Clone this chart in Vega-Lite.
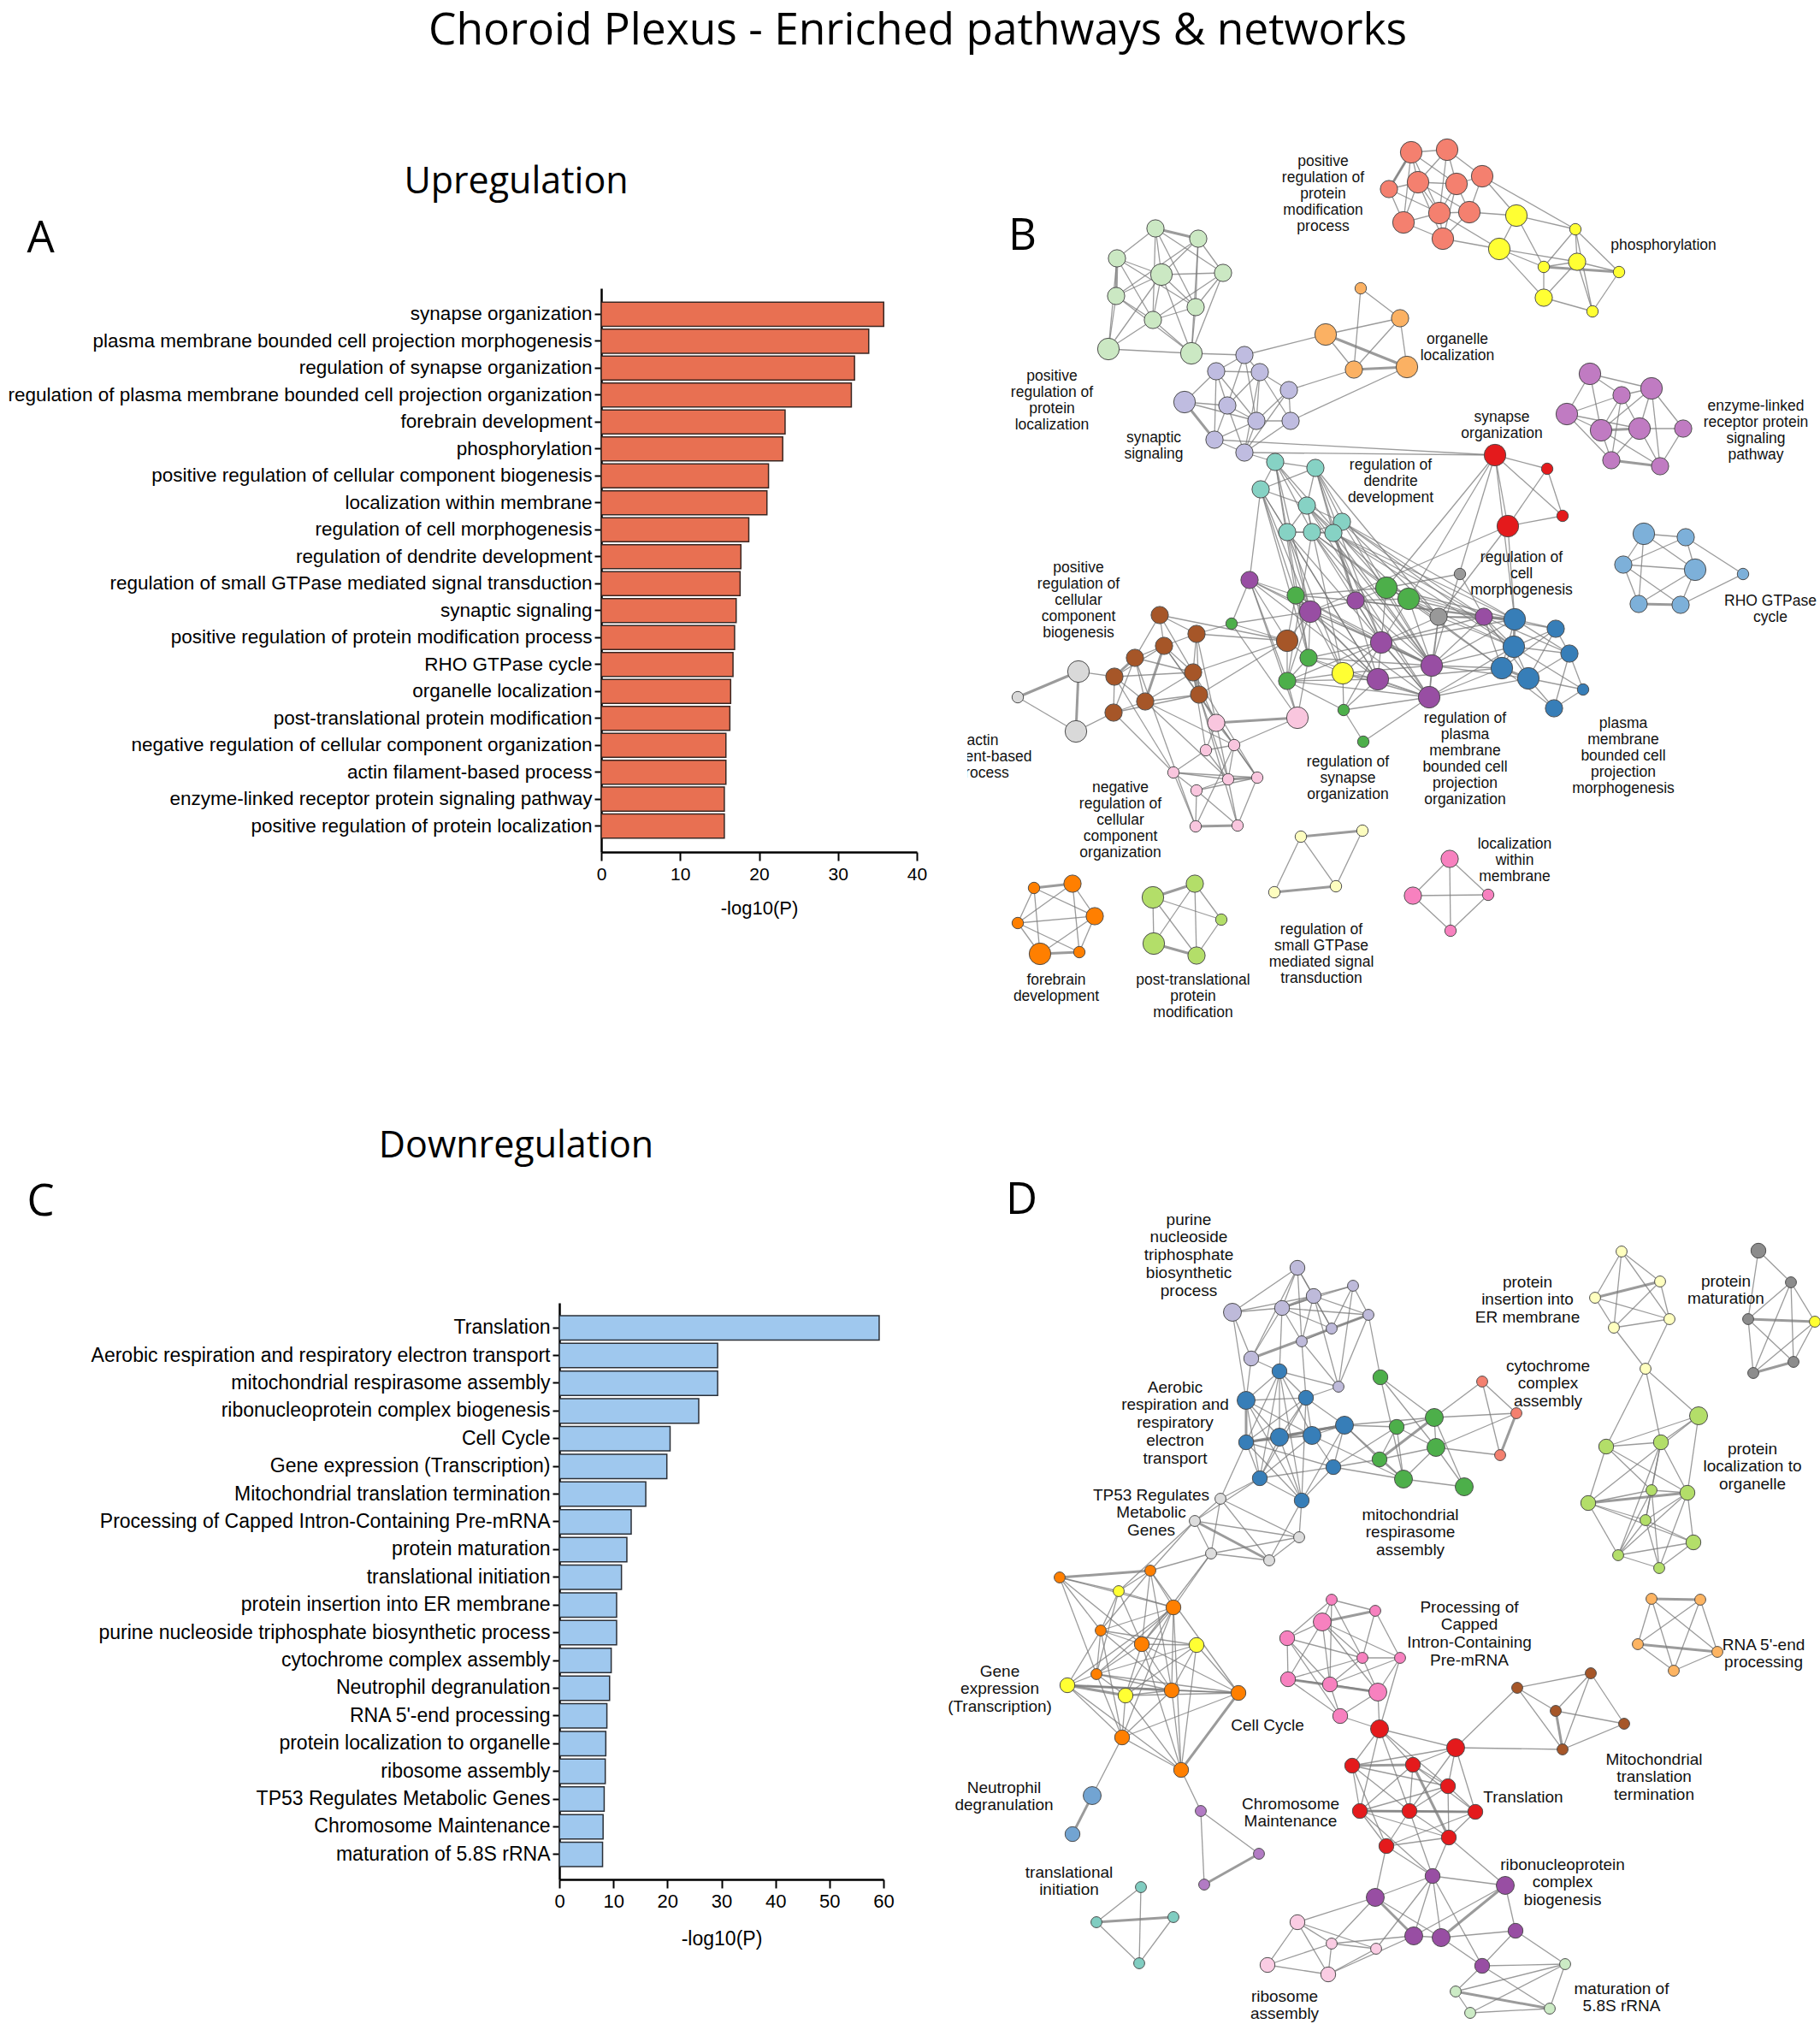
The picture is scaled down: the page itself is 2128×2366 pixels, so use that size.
{
"$schema": "https://vega.github.io/schema/vega-lite/v6.json",
"background": "white",
"padding": {"left": 9, "top": 11, "right": 0, "bottom": 0},
"title": {"text": "Choroid Plexus - Enriched pathways & networks", "font": "Open Sans", "fontSize": 51.5, "fontWeight": "normal", "color": "#000", "anchor": "middle", "frame": "group", "dx": 419, "offset": 56.5, "baseline": "alphabetic"},
"config": {
  "font": "Liberation Sans",
  "view": {"stroke": null},
  "axis": {"domainColor": "#000", "tickColor": "#000", "labelColor": "#000", "titleColor": "#000", "grid": false, "labelFont": "Liberation Sans", "titleFont": "Liberation Sans", "titleFontWeight": "normal"}
},
"datasets": {
"up": [
{"term": "synapse organization", "p": 35.8},
{"term": "plasma membrane bounded cell projection morphogenesis", "p": 33.9},
{"term": "regulation of synapse organization", "p": 32.1},
{"term": "regulation of plasma membrane bounded cell projection organization", "p": 31.7},
{"term": "forebrain development", "p": 23.3},
{"term": "phosphorylation", "p": 23.0},
{"term": "positive regulation of cellular component biogenesis", "p": 21.2},
{"term": "localization within membrane", "p": 21.0},
{"term": "regulation of cell morphogenesis", "p": 18.7},
{"term": "regulation of dendrite development", "p": 17.7},
{"term": "regulation of small GTPase mediated signal transduction", "p": 17.6},
{"term": "synaptic signaling", "p": 17.1},
{"term": "positive regulation of protein modification process", "p": 16.9},
{"term": "RHO GTPase cycle", "p": 16.7},
{"term": "organelle localization", "p": 16.4},
{"term": "post-translational protein modification", "p": 16.3},
{"term": "negative regulation of cellular component organization", "p": 15.8},
{"term": "actin filament-based process", "p": 15.8},
{"term": "enzyme-linked receptor protein signaling pathway", "p": 15.6},
{"term": "positive regulation of protein localization", "p": 15.6}
],
"down": [
{"term": "Translation", "p": 59.2},
{"term": "Aerobic respiration and respiratory electron transport", "p": 29.3},
{"term": "mitochondrial respirasome assembly", "p": 29.3},
{"term": "ribonucleoprotein complex biogenesis", "p": 25.8},
{"term": "Cell Cycle", "p": 20.5},
{"term": "Gene expression (Transcription)", "p": 19.9},
{"term": "Mitochondrial translation termination", "p": 16.0},
{"term": "Processing of Capped Intron-Containing Pre-mRNA", "p": 13.3},
{"term": "protein maturation", "p": 12.5},
{"term": "translational initiation", "p": 11.5},
{"term": "protein insertion into ER membrane", "p": 10.6},
{"term": "purine nucleoside triphosphate biosynthetic process", "p": 10.6},
{"term": "cytochrome complex assembly", "p": 9.6},
{"term": "Neutrophil degranulation", "p": 9.3},
{"term": "RNA 5'-end processing", "p": 8.8},
{"term": "protein localization to organelle", "p": 8.6},
{"term": "ribosome assembly", "p": 8.5},
{"term": "TP53 Regulates Metabolic Genes", "p": 8.3},
{"term": "Chromosome Maintenance", "p": 8.1},
{"term": "maturation of 5.8S rRNA", "p": 8.0}
],
"nodesB": [
{"id":"pm1","x":1648,"y":178,"g":"pm","n":3},{"id":"pm2","x":1690,"y":175,"g":"pm","n":3},{"id":"pm3","x":1622,"y":221,"g":"pm","n":2},{"id":"pm4","x":1656,"y":213,"g":"pm","n":3},{"id":"pm5","x":1701,"y":215,"g":"pm","n":3},{"id":"pm6","x":1731,"y":206,"g":"pm","n":3},{"id":"pm7","x":1639,"y":260,"g":"pm","n":3},{"id":"pm8","x":1681,"y":249,"g":"pm","n":3},{"id":"pm9","x":1716,"y":248,"g":"pm","n":3},{"id":"pm10","x":1685,"y":279,"g":"pm","n":3},
{"id":"ph1","x":1771,"y":252,"g":"ph","n":3},{"id":"ph2","x":1751,"y":291,"g":"ph","n":3},{"id":"ph3","x":1840,"y":268,"g":"ph","n":1},{"id":"ph4","x":1803,"y":312,"g":"ph","n":1},{"id":"ph5","x":1842,"y":306,"g":"ph","n":2},{"id":"ph6","x":1891,"y":318,"g":"ph","n":1},{"id":"ph7","x":1803,"y":348,"g":"ph","n":2},{"id":"ph8","x":1860,"y":364,"g":"ph","n":1},{"id":"ph9","x":1568,"y":787,"g":"ph","n":3},
{"id":"pl1","x":1349,"y":267,"g":"pl","n":2},{"id":"pl2","x":1399,"y":279,"g":"pl","n":2},{"id":"pl3","x":1304,"y":302,"g":"pl","n":2},{"id":"pl4","x":1356,"y":321,"g":"pl","n":3},{"id":"pl5","x":1428,"y":319,"g":"pl","n":2},{"id":"pl6","x":1303,"y":346,"g":"pl","n":2},{"id":"pl7","x":1396,"y":359,"g":"pl","n":2},{"id":"pl8","x":1346,"y":374,"g":"pl","n":2},{"id":"pl9","x":1294,"y":408,"g":"pl","n":3},{"id":"pl10","x":1391,"y":413,"g":"pl","n":3},
{"id":"ol1","x":1589,"y":337,"g":"ol","n":1},{"id":"ol2","x":1635,"y":372,"g":"ol","n":2},{"id":"ol3","x":1548,"y":391,"g":"ol","n":3},{"id":"ol4","x":1581,"y":432,"g":"ol","n":2},{"id":"ol5","x":1643,"y":429,"g":"ol","n":3},
{"id":"ss1","x":1453,"y":415,"g":"ss","n":2},{"id":"ss2","x":1420,"y":434,"g":"ss","n":2},{"id":"ss3","x":1471,"y":435,"g":"ss","n":2},{"id":"ss4","x":1505,"y":456,"g":"ss","n":2},{"id":"ss5","x":1383,"y":470,"g":"ss","n":3},{"id":"ss6","x":1433,"y":474,"g":"ss","n":2},{"id":"ss7","x":1467,"y":492,"g":"ss","n":2},{"id":"ss8","x":1507,"y":492,"g":"ss","n":2},{"id":"ss9","x":1418,"y":514,"g":"ss","n":2},{"id":"ss10","x":1453,"y":529,"g":"ss","n":2},
{"id":"en1","x":1857,"y":437,"g":"en","n":3},{"id":"en2","x":1894,"y":462,"g":"en","n":2},{"id":"en3","x":1929,"y":454,"g":"en","n":3},{"id":"en4","x":1830,"y":484,"g":"en","n":3},{"id":"en5","x":1870,"y":503,"g":"en","n":3},{"id":"en6","x":1915,"y":501,"g":"en","n":3},{"id":"en7","x":1966,"y":501,"g":"en","n":2},{"id":"en8","x":1882,"y":538,"g":"en","n":2},{"id":"en9","x":1939,"y":545,"g":"en","n":2},
{"id":"so1","x":1746,"y":532,"g":"so","n":3},{"id":"so2","x":1807,"y":548,"g":"so","n":1},{"id":"so3","x":1761,"y":615,"g":"so","n":3},{"id":"so4","x":1825,"y":603,"g":"so","n":1},
{"id":"rh1","x":1920,"y":624,"g":"rh","n":3},{"id":"rh2","x":1969,"y":628,"g":"rh","n":2},{"id":"rh3","x":1896,"y":660,"g":"rh","n":2},{"id":"rh4","x":1980,"y":666,"g":"rh","n":3},{"id":"rh5","x":2036,"y":671,"g":"rh","n":1},{"id":"rh6","x":1914,"y":706,"g":"rh","n":2},{"id":"rh7","x":1963,"y":707,"g":"rh","n":2},
{"id":"dd1","x":1489,"y":540,"g":"dd","n":2},{"id":"dd2","x":1536,"y":547,"g":"dd","n":2},{"id":"dd3","x":1472,"y":572,"g":"dd","n":2},{"id":"dd4","x":1526,"y":591,"g":"dd","n":2},{"id":"dd5","x":1567,"y":610,"g":"dd","n":2},{"id":"dd6","x":1503,"y":622,"g":"dd","n":2},{"id":"dd7","x":1532,"y":622,"g":"dd","n":2},{"id":"dd8","x":1557,"y":623,"g":"dd","n":2},
{"id":"po1","x":1459,"y":678,"g":"po","n":2},{"id":"po2","x":1583,"y":702,"g":"po","n":2},{"id":"po3","x":1530,"y":715,"g":"po","n":3},{"id":"po4","x":1733,"y":721,"g":"po","n":2},{"id":"po5","x":1613,"y":751,"g":"po","n":3},{"id":"po6","x":1672,"y":778,"g":"po","n":3},{"id":"po7","x":1609,"y":794,"g":"po","n":3},{"id":"po8","x":1669,"y":815,"g":"po","n":3},
{"id":"rs1","x":1513,"y":696,"g":"rs","n":2},{"id":"rs2","x":1619,"y":687,"g":"rs","n":3},{"id":"rs3","x":1645,"y":700,"g":"rs","n":3},{"id":"rs4","x":1438,"y":729,"g":"rs","n":1},{"id":"rs5","x":1528,"y":769,"g":"rs","n":2},{"id":"rs6","x":1503,"y":796,"g":"rs","n":2},{"id":"rs7","x":1569,"y":830,"g":"rs","n":1},{"id":"rs8","x":1592,"y":867,"g":"rs","n":1},
{"id":"cm1","x":1705,"y":671,"g":"cm","n":1},{"id":"cm2","x":1680,"y":721,"g":"cm","n":2},
{"id":"pp1","x":1769,"y":724,"g":"pp","n":3},{"id":"pp2","x":1817,"y":735,"g":"pp","n":2},{"id":"pp3","x":1768,"y":756,"g":"pp","n":3},{"id":"pp4","x":1833,"y":764,"g":"pp","n":2},{"id":"pp5","x":1754,"y":781,"g":"pp","n":3},{"id":"pp6","x":1785,"y":793,"g":"pp","n":3},{"id":"pp7","x":1849,"y":806,"g":"pp","n":1},{"id":"pp8","x":1815,"y":828,"g":"pp","n":2},
{"id":"cb1","x":1354,"y":719,"g":"cb","n":2},{"id":"cb2","x":1397,"y":741,"g":"cb","n":2},{"id":"cb3","x":1359,"y":755,"g":"cb","n":2},{"id":"cb4","x":1325,"y":769,"g":"cb","n":2},{"id":"cb5","x":1393,"y":786,"g":"cb","n":2},{"id":"cb6","x":1301,"y":791,"g":"cb","n":2},{"id":"cb7","x":1337,"y":820,"g":"cb","n":2},{"id":"cb8","x":1400,"y":812,"g":"cb","n":2},{"id":"cb9","x":1300,"y":833,"g":"cb","n":2},{"id":"cb10","x":1503,"y":749,"g":"cb","n":3},
{"id":"af1","x":1259,"y":785,"g":"af","n":3},{"id":"af2","x":1188,"y":815,"g":"af","n":1},{"id":"af3","x":1256,"y":855,"g":"af","n":3},
{"id":"nr1","x":1420,"y":845,"g":"nr","n":2},{"id":"nr2","x":1515,"y":839,"g":"nr","n":3},{"id":"nr3","x":1441,"y":871,"g":"nr","n":1},{"id":"nr4","x":1408,"y":877,"g":"nr","n":1},{"id":"nr5","x":1370,"y":903,"g":"nr","n":1},{"id":"nr6","x":1434,"y":911,"g":"nr","n":1},{"id":"nr7","x":1468,"y":909,"g":"nr","n":1},{"id":"nr8","x":1397,"y":924,"g":"nr","n":1},{"id":"nr9","x":1396,"y":966,"g":"nr","n":1},{"id":"nr10","x":1445,"y":965,"g":"nr","n":1},
{"id":"fd1","x":1207,"y":1038,"g":"fd","n":1},{"id":"fd2","x":1252,"y":1033,"g":"fd","n":2},{"id":"fd3","x":1188,"y":1079,"g":"fd","n":1},{"id":"fd4","x":1278,"y":1071,"g":"fd","n":2},{"id":"fd5","x":1214,"y":1115,"g":"fd","n":3},{"id":"fd6","x":1260,"y":1113,"g":"fd","n":1},
{"id":"pt1","x":1395,"y":1033,"g":"pt","n":2},{"id":"pt2","x":1346,"y":1049,"g":"pt","n":3},{"id":"pt3","x":1426,"y":1075,"g":"pt","n":1},{"id":"pt4","x":1347,"y":1103,"g":"pt","n":3},{"id":"pt5","x":1397,"y":1117,"g":"pt","n":2},
{"id":"sg1","x":1519,"y":978,"g":"sg","n":1},{"id":"sg2","x":1591,"y":971,"g":"sg","n":1},{"id":"sg3","x":1488,"y":1043,"g":"sg","n":1},{"id":"sg4","x":1560,"y":1036,"g":"sg","n":1},
{"id":"lm1","x":1693,"y":1004,"g":"lm","n":2},{"id":"lm2","x":1650,"y":1047,"g":"lm","n":2},{"id":"lm3","x":1738,"y":1046,"g":"lm","n":1},{"id":"lm4","x":1694,"y":1088,"g":"lm","n":1}
],
"edgesB": [
{"s":"pm1","t":["pm2","pm3","pm4","pm5","pm7","pm8"],"w":1},{"s":"pm2","t":["pm4","pm5","pm6","pm8"],"w":1},{"s":"pm3","t":["pm4","pm7","pm8"],"w":1},{"s":"pm4","t":["pm5","pm7","pm8","pm9","pm10"],"w":1},{"s":"pm5","t":["pm6","pm8","pm9","pm10"],"w":1},{"s":"pm6","t":["pm9","ph1","ph3"],"w":1},{"s":"pm7","t":["pm8","pm10"],"w":1},{"s":"pm8","t":["pm9","pm10","ph2"],"w":1},{"s":"pm9","t":["pm10","ph1"],"w":1},{"s":"pm10","t":["ph2"],"w":1},{"s":"pm3","t":["pm1"],"w":2},
{"s":"ph1","t":["ph2","ph3","ph4"],"w":1},{"s":"ph2","t":["ph4","ph5","ph7"],"w":1},{"s":"ph3","t":["ph4","ph5","ph6","ph8"],"w":1},{"s":"ph4","t":["ph5","ph7"],"w":1},{"s":"ph5","t":["ph6","ph7","ph8"],"w":1},{"s":"ph6","t":["ph8"],"w":1},{"s":"ph7","t":["ph8"],"w":1},{"s":"ph4","t":["ph6"],"w":2},
{"s":"pl1","t":["pl3","pl4","pl5","pl7","pl8"],"w":1},{"s":"pl2","t":["pl4","pl5","pl6","pl7","pl10"],"w":1},{"s":"pl3","t":["pl4","pl7","pl8","pl9"],"w":1},{"s":"pl4","t":["pl5","pl6","pl7","pl8","pl9","pl10"],"w":1},{"s":"pl5","t":["pl7","pl8","pl10"],"w":1},{"s":"pl6","t":["pl8","pl9","pl10"],"w":1},{"s":"pl7","t":["pl8","pl10"],"w":1},{"s":"pl8","t":["pl9","pl10"],"w":1},{"s":"pl9","t":["pl10"],"w":1},{"s":"pl10","t":["ss1"],"w":1},{"s":"pl1","t":["pl2"],"w":2},{"s":"pl6","t":["pl3"],"w":2},
{"s":"ol1","t":["ol2","ol4"],"w":1},{"s":"ol2","t":["ol3","ol4","ol5"],"w":1},{"s":"ol3","t":["ol4","ss1"],"w":1},{"s":"ol4","t":["ss4"],"w":1},{"s":"ol5","t":["ss8"],"w":1},{"s":"ol3","t":["ol5"],"w":2},{"s":"ol4","t":["ol5"],"w":2},
{"s":"ss1","t":["ss2","ss3","ss6","ss7"],"w":1},{"s":"ss2","t":["ss3","ss5","ss6","ss7","ss9"],"w":1},{"s":"ss3","t":["ss4","ss6","ss7","ss8","ss10"],"w":1},{"s":"ss4","t":["ss7","ss8","ss10"],"w":1},{"s":"ss5","t":["ss6","ss7"],"w":1},{"s":"ss6","t":["ss7","ss9","ss10"],"w":1},{"s":"ss7","t":["ss8","ss9","ss10"],"w":1},{"s":"ss8","t":["ss10"],"w":1},{"s":"ss9","t":["ss10","so1"],"w":1},{"s":"ss10","t":["so1","dd1"],"w":1},{"s":"ss5","t":["ss9"],"w":2},
{"s":"en1","t":["en2","en3","en4","en5"],"w":1},{"s":"en2","t":["en3","en4","en5","en6","en8"],"w":1},{"s":"en3","t":["en5","en6","en7","en9"],"w":1},{"s":"en4","t":["en5","en6","en8"],"w":1},{"s":"en5","t":["en8","en9"],"w":1},{"s":"en6","t":["en7","en8","en9"],"w":1},{"s":"en7","t":["en9"],"w":1},{"s":"en8","t":["en9"],"w":2},{"s":"en5","t":["en6"],"w":2},
{"s":"so1","t":["so2","so3","so4","po6","pp1","rs3","rs2"],"w":1},{"s":"so2","t":["so3","so4"],"w":1},{"s":"so3","t":["so4","po3","pp1","cm2"],"w":1},
{"s":"rh1","t":["rh2","rh3","rh4","rh6"],"w":1},{"s":"rh2","t":["rh3","rh4","rh5"],"w":1},{"s":"rh3","t":["rh4","rh6","rh7"],"w":1},{"s":"rh4","t":["rh6","rh7"],"w":1},{"s":"rh5","t":["rh7"],"w":1},{"s":"rh6","t":["rh7"],"w":2},
{"s":"dd1","t":["dd2","dd3","dd4","dd6","dd7","rs2","po3","rs1"],"w":1},{"s":"dd2","t":["dd3","dd4","dd5","dd8","po2","rs2","po5","cm2"],"w":1},{"s":"dd3","t":["dd4","dd6","po1","rs1","po3","rs5","po7"],"w":1},{"s":"dd4","t":["dd5","dd6","dd7","dd8","rs3","po6","ph9","po8"],"w":1},{"s":"dd5","t":["dd7","dd8","pp3","po6","cm2","po4","pp1"],"w":1},{"s":"dd6","t":["dd7","dd8","po3","rs5","po7","po8","ph9"],"w":1},{"s":"dd7","t":["dd8","po5","rs2","rs6","po6","po8","pp5"],"w":1},{"s":"dd8","t":["po2","po4","pp1","po6","pp3","po5","po7"],"w":1},
{"s":"po1","t":["rs1","po3","cb10","rs4","rs6","po7","po5"],"w":1},{"s":"rs1","t":["po2","rs2","po5","po7","rs5","po6"],"w":1},{"s":"po2","t":["rs2","rs3","po3","po5","po6","po4","pp1"],"w":1},{"s":"po3","t":["rs5","po5","po7","ph9","rs6","po6","po8"],"w":1},{"s":"rs2","t":["rs3","po5","po6","pp1","cm2","cm1","po4"],"w":1},{"s":"rs3","t":["po4","po5","cm2","pp3","po6","pp5"],"w":1},{"s":"po4","t":["cm2","pp1","pp3","pp5","pp2","po6","cm1","pp4","pp6"],"w":1},{"s":"po5","t":["po7","po8","ph9","rs5","po4","pp1"],"w":1},{"s":"po6","t":["po8","pp5","pp6","ph9","pp3","pp1"],"w":1},{"s":"po7","t":["ph9","rs7","po8","rs6","pp5"],"w":1},{"s":"po8","t":["rs7","rs8","pp5","pp6","pp3"],"w":1},{"s":"ph9","t":["rs5","rs6","rs7","po8"],"w":1},{"s":"rs5","t":["rs6","cb10","po6","po8"],"w":1},{"s":"rs6","t":["rs7","cb10","po5","po8"],"w":1},{"s":"rs7","t":["rs8","po5"],"w":1},{"s":"rs4","t":["cb10","cb2","po3"],"w":1},{"s":"cm2","t":["pp1","pp3","po6","po8","po5"],"w":1},{"s":"cb10","t":["rs1","po3"],"w":1},{"s":"rs1","t":["po3"],"w":2},{"s":"po5","t":["po6"],"w":2},
{"s":"pp1","t":["pp2","pp4","pp5"],"w":1},{"s":"pp2","t":["pp3","pp4","pp5","pp6"],"w":1},{"s":"pp3","t":["pp4","pp5","pp6","pp7"],"w":1},{"s":"pp4","t":["pp6","pp7","pp8"],"w":1},{"s":"pp5","t":["pp8"],"w":1},{"s":"pp6","t":["pp7","pp8"],"w":1},{"s":"pp7","t":["pp8"],"w":1},{"s":"pp1","t":["pp3"],"w":2},{"s":"pp5","t":["pp6"],"w":2},
{"s":"cb1","t":["cb2","cb3","cb4","cb5","cb10"],"w":1},{"s":"cb2","t":["cb3","cb5","cb8","cb10","nr1"],"w":1},{"s":"cb3","t":["cb4","cb5","cb6","cb8","nr7"],"w":1},{"s":"cb4","t":["cb5","cb7","cb9","nr9"],"w":1},{"s":"cb5","t":["cb6","cb7","cb10","nr1","nr4","nr7"],"w":1},{"s":"cb6","t":["cb7","cb9","af1","nr5"],"w":1},{"s":"cb7","t":["cb8","cb9","nr3","nr6"],"w":1},{"s":"cb8","t":["cb9","cb10","nr1","nr3","nr6","nr10"],"w":1},{"s":"cb9","t":["af3","nr5"],"w":1},{"s":"cb3","t":["cb7"],"w":2},{"s":"cb5","t":["cb8"],"w":2},{"s":"cb4","t":["cb6"],"w":2},
{"s":"af1","t":["af2","af3"],"w":2},{"s":"af2","t":["af3"],"w":1},
{"s":"nr1","t":["nr3","nr4","nr6"],"w":1},{"s":"nr1","t":["nr2"],"w":2},{"s":"nr2","t":["nr3","po1","rs6","rs5","rs4"],"w":1},{"s":"nr3","t":["nr4","nr6","nr7","nr9"],"w":1},{"s":"nr4","t":["nr5","nr6"],"w":1},{"s":"nr5","t":["nr6","nr8","nr7","nr9"],"w":1},{"s":"nr6","t":["nr8","nr10"],"w":1},{"s":"nr7","t":["nr8","nr10"],"w":1},{"s":"nr8","t":["nr9","nr10"],"w":1},{"s":"nr9","t":["nr10"],"w":2},{"s":"nr6","t":["nr7"],"w":2},
{"s":"fd1","t":["fd2"],"w":2},{"s":"fd1","t":["fd3","fd4","fd5"],"w":1},{"s":"fd2","t":["fd3","fd4","fd6"],"w":1},{"s":"fd3","t":["fd4","fd5","fd6"],"w":1},{"s":"fd4","t":["fd5","fd6"],"w":1},{"s":"fd5","t":["fd6"],"w":2},
{"s":"pt1","t":["pt2"],"w":2},{"s":"pt1","t":["pt3","pt4","pt5"],"w":1},{"s":"pt2","t":["pt3","pt4","pt5"],"w":1},{"s":"pt3","t":["pt5"],"w":1},{"s":"pt4","t":["pt5"],"w":2},
{"s":"sg1","t":["sg2"],"w":2},{"s":"sg1","t":["sg3","sg4"],"w":1},{"s":"sg2","t":["sg4"],"w":1},{"s":"sg3","t":["sg4"],"w":2},
{"s":"lm1","t":["lm2","lm3","lm4"],"w":1},{"s":"lm2","t":["lm3","lm4"],"w":1},{"s":"lm3","t":["lm4"],"w":1}
],
"labelsB": [
{"t":"positive\nregulation of\nprotein\nmodification\nprocess","x":1545,"y":188},
{"t":"phosphorylation","x":1943,"y":286},
{"t":"organelle\nlocalization","x":1702,"y":396},
{"t":"positive\nregulation of\nprotein\nlocalization","x":1228,"y":439},
{"t":"synaptic\nsignaling","x":1347,"y":511},
{"t":"synapse\norganization","x":1754,"y":487},
{"t":"enzyme-linked\nreceptor protein\nsignaling\npathway","x":2051,"y":474},
{"t":"regulation of\ndendrite\ndevelopment","x":1624,"y":543},
{"t":"regulation of\ncell\nmorphogenesis","x":1777,"y":651},
{"t":"positive\nregulation of\ncellular\ncomponent\nbiogenesis","x":1259,"y":663},
{"t":"RHO GTPase\ncycle","x":2068,"y":702},
{"t":"regulation of\nsynapse\norganization","x":1574,"y":890},
{"t":"regulation of\nplasma\nmembrane\nbounded cell\nprojection\norganization","x":1711,"y":839},
{"t":"plasma\nmembrane\nbounded cell\nprojection\nmorphogenesis","x":1896,"y":845},
{"t":"negative\nregulation of\ncellular\ncomponent\norganization","x":1308,"y":920},
{"t":"localization\nwithin\nmembrane","x":1769,"y":986},
{"t":"regulation of\nsmall GTPase\nmediated signal\ntransduction","x":1543,"y":1086},
{"t":"forebrain\ndevelopment","x":1233,"y":1145},
{"t":"post-translational\nprotein\nmodification","x":1393,"y":1145}
],
"nodesD": [
{"id":"pu1","x":1515,"y":1482,"g":"pu","n":2},{"id":"pu2","x":1580,"y":1503,"g":"pu","n":1},{"id":"pu3","x":1439,"y":1534,"g":"pu","n":3},{"id":"pu4","x":1497,"y":1529,"g":"pu","n":2},{"id":"pu5","x":1534,"y":1515,"g":"pu","n":2},{"id":"pu6","x":1598,"y":1537,"g":"pu","n":1},{"id":"pu7","x":1555,"y":1553,"g":"pu","n":1},{"id":"pu8","x":1520,"y":1568,"g":"pu","n":1},{"id":"pu9","x":1461,"y":1588,"g":"pu","n":2},{"id":"pu10","x":1563,"y":1621,"g":"pu","n":1},
{"id":"ae1","x":1494,"y":1603,"g":"ae","n":2},{"id":"ae2","x":1455,"y":1637,"g":"ae","n":3},{"id":"ae3","x":1525,"y":1634,"g":"ae","n":2},{"id":"ae4","x":1570,"y":1666,"g":"ae","n":3},{"id":"ae5","x":1494,"y":1680,"g":"ae","n":3},{"id":"ae6","x":1532,"y":1678,"g":"ae","n":3},{"id":"ae7","x":1455,"y":1686,"g":"ae","n":2},{"id":"ae8","x":1557,"y":1715,"g":"ae","n":2},{"id":"ae9","x":1471,"y":1728,"g":"ae","n":2},{"id":"ae10","x":1520,"y":1754,"g":"ae","n":2},
{"id":"mr1","x":1612,"y":1610,"g":"mr","n":2},{"id":"mr2","x":1675,"y":1657,"g":"mr","n":3},{"id":"mr3","x":1631,"y":1668,"g":"mr","n":2},{"id":"mr4","x":1677,"y":1692,"g":"mr","n":3},{"id":"mr5","x":1611,"y":1706,"g":"mr","n":2},{"id":"mr6","x":1639,"y":1729,"g":"mr","n":3},{"id":"mr7","x":1710,"y":1738,"g":"mr","n":3},
{"id":"cy1","x":1731,"y":1615,"g":"cy","n":1},{"id":"cy2","x":1771,"y":1652,"g":"cy","n":1},{"id":"cy3","x":1752,"y":1701,"g":"cy","n":1},
{"id":"tp1","x":1425,"y":1752,"g":"tp","n":1},{"id":"tp2","x":1395,"y":1778,"g":"tp","n":1},{"id":"tp3","x":1517,"y":1797,"g":"tp","n":1},{"id":"tp4","x":1414,"y":1816,"g":"tp","n":1},{"id":"tp5","x":1482,"y":1824,"g":"tp","n":1},
{"id":"er1","x":1894,"y":1463,"g":"er","n":1},{"id":"er2","x":1939,"y":1498,"g":"er","n":1},{"id":"er3","x":1863,"y":1517,"g":"er","n":1},{"id":"er4","x":1950,"y":1542,"g":"er","n":1},{"id":"er5","x":1885,"y":1552,"g":"er","n":1},{"id":"er6","x":1922,"y":1600,"g":"er","n":1},
{"id":"ma1","x":2054,"y":1462,"g":"ma","n":2},{"id":"ma2","x":2092,"y":1499,"g":"ma","n":1},{"id":"ma3","x":2042,"y":1542,"g":"ma","n":1},{"id":"ma4","x":2095,"y":1592,"g":"ma","n":1},{"id":"ma5","x":2048,"y":1605,"g":"ma","n":1},{"id":"ma6","x":2120,"y":1545,"g":"ge","n":1},
{"id":"lo1","x":1984,"y":1655,"g":"lo","n":3},{"id":"lo2","x":1876,"y":1691,"g":"lo","n":2},{"id":"lo3","x":1940,"y":1686,"g":"lo","n":2},{"id":"lo4","x":1855,"y":1757,"g":"lo","n":2},{"id":"lo5","x":1929,"y":1742,"g":"lo","n":1},{"id":"lo6","x":1971,"y":1745,"g":"lo","n":2},{"id":"lo7","x":1922,"y":1777,"g":"lo","n":1},{"id":"lo8","x":1978,"y":1803,"g":"lo","n":2},{"id":"lo9","x":1890,"y":1818,"g":"lo","n":1},{"id":"lo10","x":1938,"y":1833,"g":"lo","n":1},
{"id":"rn1","x":1929,"y":1869,"g":"rn","n":1},{"id":"rn2","x":1986,"y":1870,"g":"rn","n":1},{"id":"rn3","x":1913,"y":1922,"g":"rn","n":1},{"id":"rn4","x":2006,"y":1931,"g":"rn","n":1},{"id":"rn5","x":1955,"y":1953,"g":"rn","n":1},
{"id":"cc1","x":1237,"y":1844,"g":"cc","n":1},{"id":"cc2","x":1343,"y":1836,"g":"cc","n":1},{"id":"cc3","x":1370,"y":1879,"g":"cc","n":2},{"id":"cc4","x":1285,"y":1906,"g":"cc","n":1},{"id":"cc5","x":1333,"y":1922,"g":"cc","n":2},{"id":"cc6","x":1280,"y":1957,"g":"cc","n":1},{"id":"cc7","x":1368,"y":1976,"g":"cc","n":2},{"id":"cc8","x":1446,"y":1979,"g":"cc","n":2},{"id":"cc9","x":1310,"y":2031,"g":"cc","n":2},{"id":"cc10","x":1379,"y":2069,"g":"cc","n":2},
{"id":"ge1","x":1306,"y":1860,"g":"ge","n":1},{"id":"ge2","x":1397,"y":1923,"g":"ge","n":2},{"id":"ge3","x":1246,"y":1970,"g":"ge","n":2},{"id":"ge4","x":1314,"y":1982,"g":"ge","n":2},
{"id":"pc1","x":1555,"y":1870,"g":"pc","n":1},{"id":"pc2","x":1606,"y":1883,"g":"pc","n":1},{"id":"pc3","x":1544,"y":1896,"g":"pc","n":3},{"id":"pc4","x":1503,"y":1915,"g":"pc","n":2},{"id":"pc5","x":1591,"y":1938,"g":"pc","n":1},{"id":"pc6","x":1635,"y":1938,"g":"pc","n":1},{"id":"pc7","x":1504,"y":1963,"g":"pc","n":2},{"id":"pc8","x":1553,"y":1969,"g":"pc","n":2},{"id":"pc9","x":1609,"y":1978,"g":"pc","n":3},{"id":"pc10","x":1565,"y":2006,"g":"pc","n":2},
{"id":"tr1","x":1611,"y":2021,"g":"tr","n":3},{"id":"tr2","x":1700,"y":2043,"g":"tr","n":3},{"id":"tr3","x":1579,"y":2064,"g":"tr","n":2},{"id":"tr4","x":1650,"y":2063,"g":"tr","n":2},{"id":"tr5","x":1691,"y":2088,"g":"tr","n":2},{"id":"tr6","x":1588,"y":2117,"g":"tr","n":2},{"id":"tr7","x":1646,"y":2117,"g":"tr","n":2},{"id":"tr8","x":1723,"y":2118,"g":"tr","n":2},{"id":"tr9","x":1692,"y":2148,"g":"tr","n":2},{"id":"tr10","x":1619,"y":2158,"g":"tr","n":2},
{"id":"mt1","x":1858,"y":1956,"g":"mt","n":1},{"id":"mt2","x":1772,"y":1973,"g":"mt","n":1},{"id":"mt3","x":1817,"y":2000,"g":"mt","n":1},{"id":"mt4","x":1897,"y":2015,"g":"mt","n":1},{"id":"mt5","x":1825,"y":2045,"g":"mt","n":1},
{"id":"nd1","x":1275,"y":2099,"g":"nd","n":3},{"id":"nd2","x":1252,"y":2144,"g":"nd","n":2},
{"id":"ch1","x":1402,"y":2117,"g":"ch","n":1},{"id":"ch2","x":1470,"y":2167,"g":"ch","n":1},{"id":"ch3","x":1406,"y":2203,"g":"ch","n":1},
{"id":"ti1","x":1332,"y":2206,"g":"ti","n":1},{"id":"ti2","x":1280,"y":2247,"g":"ti","n":1},{"id":"ti3","x":1370,"y":2241,"g":"ti","n":1},{"id":"ti4","x":1330,"y":2295,"g":"ti","n":1},
{"id":"rb1","x":1673,"y":2193,"g":"rb","n":2},{"id":"rb2","x":1758,"y":2204,"g":"rb","n":3},{"id":"rb3","x":1606,"y":2218,"g":"rb","n":3},{"id":"rb4","x":1651,"y":2263,"g":"rb","n":3},{"id":"rb5","x":1683,"y":2265,"g":"rb","n":3},{"id":"rb6","x":1770,"y":2257,"g":"rb","n":2},{"id":"rb7","x":1731,"y":2298,"g":"rb","n":2},
{"id":"ra1","x":1515,"y":2247,"g":"ra","n":2},{"id":"ra2","x":1555,"y":2272,"g":"ra","n":1},{"id":"ra3","x":1607,"y":2278,"g":"ra","n":1},{"id":"ra4","x":1480,"y":2297,"g":"ra","n":2},{"id":"ra5","x":1551,"y":2308,"g":"ra","n":2},
{"id":"m1","x":1828,"y":2296,"g":"m5","n":1},{"id":"m2","x":1700,"y":2328,"g":"m5","n":1},{"id":"m3","x":1810,"y":2348,"g":"m5","n":1},{"id":"m4","x":1717,"y":2353,"g":"m5","n":1}
],
"edgesD": [
{"s":"pu1","t":["pu3","pu4","pu5","pu7","pu8","pu9"],"w":1},{"s":"pu2","t":["pu4","pu5","pu6","pu7","pu10"],"w":1},{"s":"pu3","t":["pu4","pu5","pu9","ae2"],"w":1},{"s":"pu4","t":["pu6","pu7","pu8","pu9","ae1"],"w":1},{"s":"pu5","t":["pu6","pu7","pu8","pu10"],"w":1},{"s":"pu6","t":["pu7","pu10","mr1"],"w":1},{"s":"pu7","t":["pu8"],"w":1},{"s":"pu8","t":["pu10","ae3"],"w":1},{"s":"pu9","t":["ae1","ae2"],"w":1},{"s":"pu10","t":["ae1","ae3"],"w":1},{"s":"pu6","t":["pu9"],"w":2},{"s":"pu4","t":["pu5"],"w":2},
{"s":"ae1","t":["ae2","ae3","ae5","ae6","ae7","ae9","ae10"],"w":1},{"s":"ae2","t":["ae3","ae5","ae6","ae9","ae10"],"w":1},{"s":"ae3","t":["ae4","ae5","ae6","ae7","ae9","ae10"],"w":1},{"s":"ae4","t":["ae6","ae8","ae10","mr2","mr3","mr5","mr6"],"w":1},{"s":"ae5","t":["ae6","ae7","ae9","ae10"],"w":1},{"s":"ae6","t":["ae7","ae8","ae9","mr6"],"w":1},{"s":"ae7","t":["ae8","ae9","ae10","tp1"],"w":1},{"s":"ae8","t":["ae9","ae10","mr5","mr3","mr6"],"w":1},{"s":"ae9","t":["ae10","tp1","tp2"],"w":1},{"s":"ae10","t":["tp3","tp5"],"w":1},{"s":"ae7","t":["ae4"],"w":2},{"s":"ae5","t":["ae4"],"w":2},{"s":"ae2","t":["ae7"],"w":2},
{"s":"mr1","t":["mr2","mr4","mr6"],"w":1},{"s":"mr2","t":["mr3","mr4","mr7","cy1","cy2"],"w":1},{"s":"mr3","t":["mr4","mr5","mr6"],"w":1},{"s":"mr4","t":["mr5","mr6","mr7","cy2","cy3"],"w":1},{"s":"mr5","t":["mr6"],"w":1},{"s":"mr6","t":["mr7"],"w":1},{"s":"mr5","t":["mr2"],"w":2},
{"s":"cy1","t":["cy2","cy3"],"w":1},{"s":"cy2","t":["cy3"],"w":2},
{"s":"tp1","t":["tp2","tp3","tp4","tp5"],"w":1},{"s":"tp2","t":["tp3","tp4","cc2","ge1"],"w":1},{"s":"tp3","t":["tp4","tp5"],"w":1},{"s":"tp4","t":["tp5","cc2","cc3","cc5"],"w":1},{"s":"tp2","t":["tp5"],"w":2},
{"s":"er1","t":["er2","er3","er4","er5"],"w":1},{"s":"er2","t":["er4","er5"],"w":1},{"s":"er3","t":["er4","er5"],"w":1},{"s":"er4","t":["er5","er6"],"w":1},{"s":"er5","t":["er6"],"w":1},{"s":"er6","t":["lo1","lo2","lo3"],"w":1},{"s":"er2","t":["er3"],"w":2},
{"s":"ma1","t":["ma2","ma3"],"w":1},{"s":"ma2","t":["ma3","ma4","ma5","ma6"],"w":1},{"s":"ma3","t":["ma4"],"w":1},{"s":"ma3","t":["ma6"],"w":2},{"s":"ma4","t":["ma6"],"w":1},{"s":"ma5","t":["ma4"],"w":2},{"s":"ma5","t":["ma6","ma3"],"w":1},
{"s":"lo1","t":["lo2","lo3","lo4","lo6"],"w":1},{"s":"lo2","t":["lo3","lo4","lo5","lo6"],"w":1},{"s":"lo3","t":["lo5","lo6","lo7","lo9"],"w":1},{"s":"lo4","t":["lo5","lo7","lo8","lo9"],"w":1},{"s":"lo4","t":["lo6"],"w":2},{"s":"lo5","t":["lo6","lo7","lo9","lo10"],"w":1},{"s":"lo6","t":["lo7","lo8","lo9","lo10"],"w":1},{"s":"lo7","t":["lo8","lo9","lo10"],"w":1},{"s":"lo8","t":["lo9","lo10"],"w":1},{"s":"lo9","t":["lo10"],"w":1},
{"s":"rn1","t":["rn2"],"w":2},{"s":"rn1","t":["rn3","rn4","rn5"],"w":1},{"s":"rn2","t":["rn3","rn4","rn5"],"w":1},{"s":"rn3","t":["rn4"],"w":2},{"s":"rn3","t":["rn5"],"w":1},{"s":"rn4","t":["rn5"],"w":1},
{"s":"cc1","t":["cc2"],"w":2},{"s":"cc1","t":["ge1","cc3","cc4","cc5","cc6"],"w":1},{"s":"cc2","t":["ge1","cc3","cc4","cc5","cc7","cc8"],"w":1},{"s":"cc3","t":["ge1","cc4","cc5","cc6","ge3","ge4","cc7","cc9","cc10"],"w":1},{"s":"ge1","t":["cc4","cc5","cc6"],"w":1},{"s":"cc4","t":["cc5","cc6","ge2","ge3","cc7","cc9"],"w":1},{"s":"cc5","t":["ge2","cc6","ge4","cc7","cc8","cc10"],"w":1},{"s":"ge2","t":["cc6","cc7","cc8","ge4","cc10"],"w":1},{"s":"cc6","t":["ge3","ge4","cc7","cc8","cc9"],"w":1},{"s":"ge3","t":["cc8","cc9","cc10"],"w":1},{"s":"ge4","t":["cc7","cc8","cc9","cc10"],"w":1},{"s":"cc7","t":["cc8","cc9","cc10"],"w":1},{"s":"cc8","t":["cc9"],"w":1},{"s":"cc9","t":["cc10","nd1"],"w":1},{"s":"cc10","t":["ch1"],"w":1},{"s":"ge3","t":["ge4","cc7"],"w":2},{"s":"nd1","t":["nd2"],"w":2},{"s":"cc8","t":["cc10"],"w":2},
{"s":"pc1","t":["pc2","pc3","pc4","pc5","pc8"],"w":1},{"s":"pc2","t":["pc5","pc6"],"w":1},{"s":"pc3","t":["pc4","pc5","pc6","pc7","pc8","pc9"],"w":1},{"s":"pc4","t":["pc5","pc7","pc8","pc10"],"w":1},{"s":"pc5","t":["pc6","pc7","pc8","pc9"],"w":1},{"s":"pc6","t":["pc8","pc9","tr1"],"w":1},{"s":"pc7","t":["pc8","pc10"],"w":1},{"s":"pc8","t":["pc9","pc10"],"w":1},{"s":"pc9","t":["pc10","tr1"],"w":1},{"s":"pc10","t":["tr1"],"w":1},{"s":"pc3","t":["pc2"],"w":2},{"s":"pc7","t":["pc9"],"w":2},
{"s":"tr1","t":["tr2","tr3","tr4","tr5","tr6","tr7"],"w":1},{"s":"tr2","t":["tr3","tr4","tr5","tr7","tr8","mt2","mt5"],"w":1},{"s":"tr3","t":["tr5","tr6","tr7","tr10"],"w":1},{"s":"tr4","t":["tr5","tr6","tr7","tr8"],"w":1},{"s":"tr5","t":["tr6","tr7","tr8","tr9"],"w":1},{"s":"tr6","t":["tr7","tr9","tr10","rb1"],"w":1},{"s":"tr7","t":["tr8","tr9","tr10","rb1"],"w":1},{"s":"tr8","t":["tr9","tr10"],"w":1},{"s":"tr9","t":["tr10","rb1","rb2"],"w":1},{"s":"tr10","t":["rb1","rb3"],"w":1},{"s":"tr6","t":["tr8"],"w":2},{"s":"tr3","t":["tr4"],"w":2},{"s":"tr4","t":["tr9"],"w":2},
{"s":"mt1","t":["mt2","mt3","mt5","mt4"],"w":1},{"s":"mt2","t":["mt3","mt5"],"w":1},{"s":"mt3","t":["mt4"],"w":1},{"s":"mt3","t":["mt5"],"w":2},{"s":"mt4","t":["mt5"],"w":1},
{"s":"ch1","t":["ch2","ch3"],"w":1},{"s":"ch2","t":["ch3"],"w":2},
{"s":"ti1","t":["ti2","ti4"],"w":1},{"s":"ti2","t":["ti3"],"w":2},{"s":"ti2","t":["ti4"],"w":1},{"s":"ti3","t":["ti4"],"w":1},
{"s":"rb1","t":["rb2","rb3","rb4","rb5","rb7","ra3"],"w":1},{"s":"rb2","t":["rb4","rb6"],"w":1},{"s":"rb3","t":["rb5","ra1","ra2"],"w":1},{"s":"rb4","t":["rb5","ra2","ra5"],"w":1},{"s":"rb5","t":["rb7","rb6"],"w":1},{"s":"rb6","t":["rb7","m1"],"w":1},{"s":"rb7","t":["m1","m2","m3"],"w":1},{"s":"rb3","t":["rb4"],"w":2},{"s":"rb2","t":["rb5"],"w":2},
{"s":"ra1","t":["ra2","ra3","ra4","ra5"],"w":1},{"s":"ra2","t":["ra3","ra4","ra5"],"w":1},{"s":"ra3","t":["ra5"],"w":1},{"s":"ra4","t":["ra5"],"w":1},
{"s":"m1","t":["m2","m3","m4"],"w":1},{"s":"m2","t":["m3"],"w":2},{"s":"m2","t":["m4"],"w":1},{"s":"m3","t":["m4"],"w":1}
],
"labelsD": [
{"t":"purine\nnucleoside\ntriphosphate\nbiosynthetic\nprocess","x":1388,"y":1425},
{"t":"protein\ninsertion into\nER membrane","x":1784,"y":1498},
{"t":"protein\nmaturation","x":2016,"y":1497},
{"t":"cytochrome\ncomplex\nassembly","x":1808,"y":1596},
{"t":"Aerobic\nrespiration and\nrespiratory\nelectron\ntransport","x":1372,"y":1621},
{"t":"protein\nlocalization to\norganelle","x":2047,"y":1693},
{"t":"TP53 Regulates\nMetabolic\nGenes","x":1344,"y":1747},
{"t":"mitochondrial\nrespirasome\nassembly","x":1647,"y":1770},
{"t":"Processing of\nCapped\nIntron-Containing\nPre-mRNA","x":1716,"y":1878},
{"t":"RNA 5'-end\nprocessing","x":2060,"y":1922},
{"t":"Gene\nexpression\n(Transcription)","x":1167,"y":1953},
{"t":"Cell Cycle","x":1480,"y":2016},
{"t":"Mitochondrial\ntranslation\ntermination","x":1932,"y":2056},
{"t":"Neutrophil\ndegranulation","x":1172,"y":2089},
{"t":"Chromosome\nMaintenance","x":1507,"y":2108},
{"t":"Translation","x":1779,"y":2100},
{"t":"translational\ninitiation","x":1248,"y":2188},
{"t":"ribonucleoprotein\ncomplex\nbiogenesis","x":1825,"y":2179},
{"t":"ribosome\nassembly","x":1500,"y":2333},
{"t":"maturation of\n5.8S rRNA","x":1894,"y":2324}
]
},
"bounds": "flush",
"spacing": 1186,
"resolve": {"scale": {"color": "independent", "size": "independent", "strokeWidth": "independent", "x": "independent", "y": "independent"}},
"vconcat": [
{
"bounds": "flush",
"spacing": 0,
"resolve": {"scale": {"color": "independent", "size": "independent", "strokeWidth": "independent", "x": "independent", "y": "independent"}},
"hconcat": [
{"width": 49, "height": 659, "data": {"values": []}, "mark": "point"},
{
"width": 369, "height": 659,
"title": {"text": "Upregulation", "font": "Open Sans", "fontSize": 43, "fontWeight": "normal", "color": "#000", "anchor": "middle", "frame": "group", "dx": -284, "offset": -16, "baseline": "alphabetic"},
"data": {"name": "up"},
"mark": {"type": "bar", "fill": "#E87052", "stroke": "#3a2722", "strokeWidth": 1.5},
"encoding": {
"y": {"field": "term", "type": "nominal", "sort": null, "scale": {"paddingInner": 0.11, "paddingOuter": 0.52}, "axis": {"title": "A", "titleAngle": 0, "titleX": -656, "titleY": -43, "titleAlign": "center", "titleBaseline": "alphabetic", "titleFont": "Open Sans", "titleFontSize": 51, "titleFontWeight": "normal", "labelFontSize": 22.5, "labelLimit": 1000, "tickSize": 8, "tickWidth": 2, "labelPadding": 3, "domainWidth": 2.5}},
"x": {"field": "p", "type": "quantitative", "scale": {"domain": [0, 40], "nice": false}, "axis": {"title": "-log10(P)", "values": [0, 10, 20, 30, 40], "labelFlush": false, "labelFontSize": 21, "titleFontSize": 22, "tickSize": 10, "tickWidth": 2, "domainWidth": 2.5, "labelPadding": 5, "titlePadding": 19}}
}
},
{"width": 59, "height": 659, "data": {"values": []}, "mark": "point"},
{
"width": 999, "height": 659,
"title": {"text": "B", "font": "Open Sans", "fontSize": 51, "fontWeight": "normal", "color": "#000", "anchor": "start", "frame": "group", "dx": 48, "offset": -182.5, "baseline": "alphabetic"},
"layer": [
{
"data": {"name": "edgesB"},
"transform": [
{"flatten": ["t"]},
{"lookup": "s", "from": {"data": {"name": "nodesB"}, "key": "id", "fields": ["x", "y"]}, "as": ["sx", "sy"]},
{"lookup": "t", "from": {"data": {"name": "nodesB"}, "key": "id", "fields": ["x", "y"]}, "as": ["tx", "ty"]}
],
"mark": {"type": "rule", "color": "#7a7a7a", "opacity": 0.75},
"encoding": {
"x": {"field": "sx", "type": "quantitative", "scale": {"domain": [1129, 2128], "nice": false, "zero": false}, "axis": null},
"y": {"field": "sy", "type": "quantitative", "scale": {"domain": [337, 996], "nice": false, "zero": false, "reverse": true}, "axis": null},
"x2": {"field": "tx"},
"y2": {"field": "ty"},
"strokeWidth": {"field": "w", "type": "quantitative", "scale": {"domain": [1, 2], "range": [1.3, 3]}, "legend": null}
}
},
{
"data": {"name": "nodesB"},
"mark": {"type": "point", "filled": true, "shape": "circle", "stroke": "#4d4d4d", "strokeWidth": 1, "opacity": 1},
"encoding": {
"x": {"field": "x", "type": "quantitative", "axis": null},
"y": {"field": "y", "type": "quantitative", "axis": null},
"color": {"field": "g", "type": "nominal", "scale": {"domain": ["pm","ph","pl","ol","ss","en","so","rh","dd","po","rs","cm","pp","cb","af","nr","fd","pt","sg","lm"], "range": ["#F4806F","#FFFF33","#CBE8C3","#FBB163","#BFBCE0","#C07BC2","#E41A1C","#7DB0D9","#86D2C4","#984EA3","#4DAF4A","#999999","#377EB8","#A65628","#D9D9D9","#F9C6DE","#FF7F00","#B3DE69","#FDFDBF","#F781BF"]}, "legend": null},
"size": {"field": "n", "type": "quantitative", "scale": {"domain": [1, 3], "range": [180, 640]}, "legend": null}
}
},
{
"data": {"name": "labelsB"},
"mark": {"type": "text", "font": "Liberation Sans", "fontSize": 17.5, "lineBreak": "\n", "lineHeight": 19, "align": "center", "baseline": "top", "dy": -8, "color": "#111"},
"encoding": {
"x": {"field": "x", "type": "quantitative", "axis": null},
"y": {"field": "y", "type": "quantitative", "axis": null},
"text": {"field": "t", "type": "nominal"}
}
},
{
"data": {"values": [{"t": "actin\nfilament-based\nprocess", "x": 1147, "y": 865}]},
"mark": {"type": "text", "font": "Liberation Sans", "fontSize": 17.5, "lineBreak": "\n", "lineHeight": 19, "align": "center", "baseline": "top", "dy": -8, "color": "#111", "clip": true},
"encoding": {
"x": {"field": "x", "type": "quantitative", "axis": null},
"y": {"field": "y", "type": "quantitative", "axis": null},
"text": {"field": "t", "type": "nominal"}
}
}
]
}
]
},
{
"bounds": "flush",
"spacing": 69,
"resolve": {"scale": {"color": "independent", "size": "independent", "strokeWidth": "independent", "x": "independent", "y": "independent"}},
"hconcat": [
{
"width": 379, "height": 674,
"title": {"text": "Downregulation", "font": "Open Sans", "fontSize": 43, "fontWeight": "normal", "color": "#000", "anchor": "middle", "frame": "group", "dx": -240, "offset": -17, "baseline": "alphabetic"},
"data": {"name": "down"},
"mark": {"type": "bar", "fill": "#9FC8EE", "stroke": "#2b3038", "strokeWidth": 1.5},
"encoding": {
"y": {"field": "term", "type": "nominal", "sort": null, "scale": {"paddingInner": 0.12, "paddingOuter": 0.46}, "axis": {"title": "C", "titleAngle": 0, "titleX": -607, "titleY": -103, "titleAlign": "center", "titleBaseline": "alphabetic", "titleFont": "Open Sans", "titleFontSize": 51, "titleFontWeight": "normal", "labelFontSize": 23, "labelLimit": 1000, "tickSize": 8, "tickWidth": 2, "labelPadding": 3, "domainWidth": 2.5}},
"x": {"field": "p", "type": "quantitative", "scale": {"domain": [0, 60], "nice": false}, "axis": {"title": "-log10(P)", "values": [0, 10, 20, 30, 40, 50, 60], "labelFlush": false, "labelFontSize": 22, "titleFontSize": 23, "tickSize": 10, "tickWidth": 2, "domainWidth": 2.5, "labelPadding": 5, "titlePadding": 22}}
}
},
{
"width": 1028, "height": 674,
"title": {"text": "D", "font": "Open Sans", "fontSize": 51, "fontWeight": "normal", "color": "#000", "anchor": "start", "frame": "group", "dx": 74, "offset": -53.4, "baseline": "alphabetic"},
"layer": [
{
"data": {"name": "edgesD"},
"transform": [
{"flatten": ["t"]},
{"lookup": "s", "from": {"data": {"name": "nodesD"}, "key": "id", "fields": ["x", "y"]}, "as": ["sx", "sy"]},
{"lookup": "t", "from": {"data": {"name": "nodesD"}, "key": "id", "fields": ["x", "y"]}, "as": ["tx", "ty"]}
],
"mark": {"type": "rule", "color": "#7a7a7a", "opacity": 0.75},
"encoding": {
"x": {"field": "sx", "type": "quantitative", "scale": {"domain": [1100, 2128], "nice": false, "zero": false}, "axis": null},
"y": {"field": "sy", "type": "quantitative", "scale": {"domain": [1523, 2197], "nice": false, "zero": false, "reverse": true}, "axis": null},
"x2": {"field": "tx"},
"y2": {"field": "ty"},
"strokeWidth": {"field": "w", "type": "quantitative", "scale": {"domain": [1, 2], "range": [1.3, 3]}, "legend": null}
}
},
{
"data": {"name": "nodesD"},
"mark": {"type": "point", "filled": true, "shape": "circle", "stroke": "#4d4d4d", "strokeWidth": 1, "opacity": 1},
"encoding": {
"x": {"field": "x", "type": "quantitative", "axis": null},
"y": {"field": "y", "type": "quantitative", "axis": null},
"color": {"field": "g", "type": "nominal", "scale": {"domain": ["pu","ae","mr","cy","tp","er","ma","lo","rn","cc","ge","pc","tr","mt","nd","ch","ti","rb","ra","m5"], "range": ["#BEBADA","#377EB8","#4DAF4A","#F4806F","#DDDDDD","#FFFFBF","#8C8C8C","#B3DE69","#FDB462","#FF7F00","#FFFF33","#F781BF","#E41A1C","#A65628","#72A4D2","#B27BC4","#80CDC1","#984EA3","#FACCE3","#CCEBC5"]}, "legend": null},
"size": {"field": "n", "type": "quantitative", "scale": {"domain": [1, 3], "range": [165, 440]}, "legend": null}
}
},
{
"data": {"name": "labelsD"},
"mark": {"type": "text", "font": "Liberation Sans", "fontSize": 19, "lineBreak": "\n", "lineHeight": 20.8, "align": "center", "baseline": "top", "dy": -8.5, "color": "#111"},
"encoding": {
"x": {"field": "x", "type": "quantitative", "axis": null},
"y": {"field": "y", "type": "quantitative", "axis": null},
"text": {"field": "t", "type": "nominal"}
}
}
]
}
]
}
]
}
